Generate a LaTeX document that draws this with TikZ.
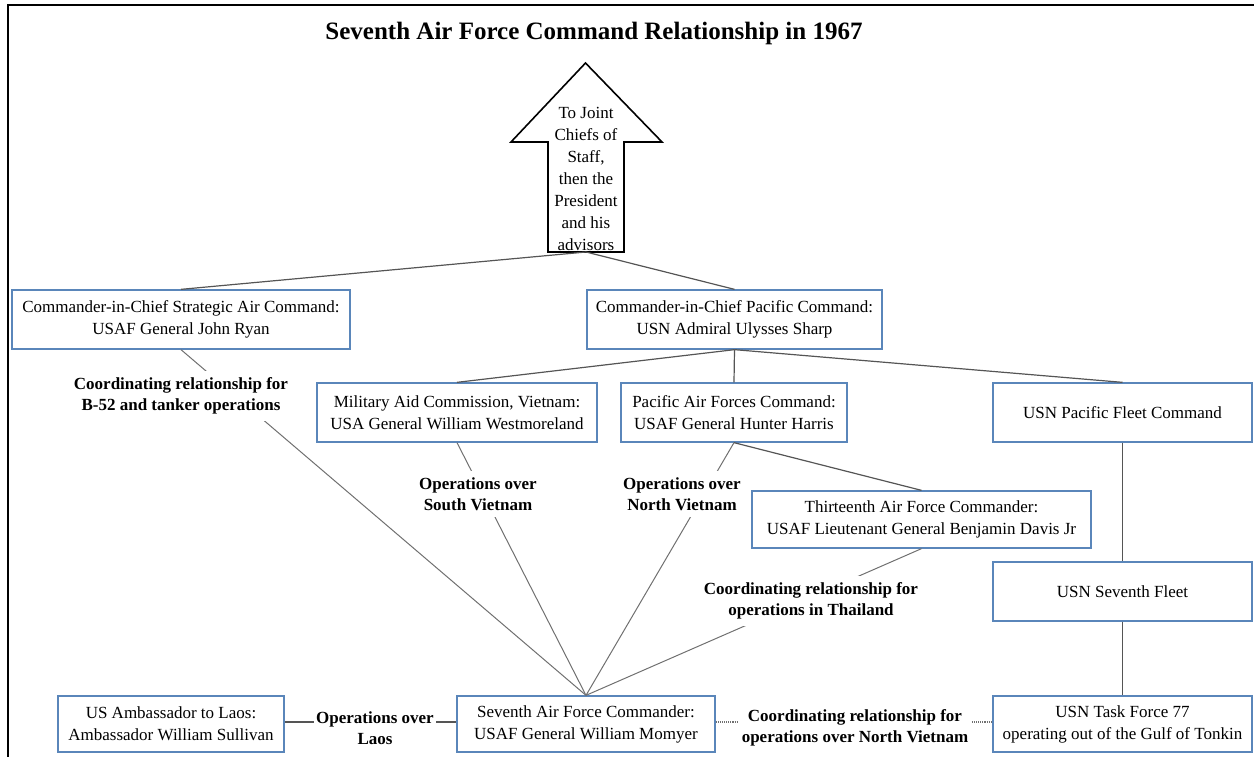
\documentclass[tikz,border=0pt]{standalone}
\usepackage{fontspec}
\setmainfont{Liberation Serif}
\definecolor{boxblue}{HTML}{5A86BA}
\definecolor{conn}{HTML}{555555}
\definecolor{faint}{HTML}{707070}
\begin{document}
\begin{tikzpicture}[x=1pt,y=-1pt,
  box/.style={draw=boxblue, line width=1.3pt, fill=white, align=center, inner sep=0pt,
    font=\fontsize{17}{22}\selectfont},
  lbl/.style={fill=white, align=center, inner sep=4pt,
    font=\bfseries\fontsize{17}{21.5}\selectfont},
  link/.style={draw=conn, line width=1.2pt},
  faintlink/.style={draw=faint, line width=1pt},
  dotlink/.style={draw=faint, line width=1.1pt, densely dotted}]
\useasboundingbox (0,0) rectangle (1254,757);
% frame
\draw[line width=2pt] (8,757) -- (8,5) -- (1254,5);
% title
\node[font=\bfseries\fontsize{25}{30}\selectfont] (title) at (594,33) {Seventh Air Force Command Relationship in 1967};
% arrow
\draw[line width=1.6pt, fill=white] (585.5,63) -- (662,142) -- (624,142) -- (624,252) -- (548,252) -- (548,142) -- (511,142) -- cycle;
\node[align=center, inner sep=0pt, font=\fontsize{17}{22}\selectfont] (arrowtxt) at (586,179)
  {To Joint\\Chiefs of\\Staff,\\then the\\President\\and his\\advisors};
\coordinate (abase) at (586,252);
% boxes
\node[box, minimum width=338pt, minimum height=59pt] (sac) at (181,319.5)
  {Commander-in-Chief Strategic Air Command:\\USAF General John Ryan};
\node[box, minimum width=295pt, minimum height=59pt] (pacom) at (734.5,319.5)
  {Commander-in-Chief Pacific Command:\\USN Admiral Ulysses Sharp};
\node[box, minimum width=280pt, minimum height=59pt] (macv) at (457,412.5)
  {Military Aid Commission, Vietnam:\\USA General William Westmoreland};
\node[box, minimum width=226pt, minimum height=59pt] (pacaf) at (734,412.5)
  {Pacific Air Forces Command:\\USAF General Hunter Harris};
\node[box, minimum width=259pt, minimum height=59pt] (pfc) at (1122.5,412.5)
  {USN Pacific Fleet Command};
\node[box, minimum width=339pt, minimum height=57pt] (thirteenth) at (921.5,519.5)
  {Thirteenth Air Force Commander:\\USAF Lieutenant General Benjamin Davis Jr};
\node[box, minimum width=259pt, minimum height=59pt] (fleet) at (1122.5,591.5)
  {USN Seventh Fleet};
\node[box, minimum width=226pt, minimum height=56pt] (laos) at (171,724)
  {US Ambassador to Laos:\\Ambassador William Sullivan};
\node[box, minimum width=258pt, minimum height=56pt] (seventh) at (586,724)
  {Seventh Air Force Commander:\\USAF General William Momyer};
\node[box, minimum width=259pt, minimum height=56pt] (tf) at (1122.5,724)
  {USN Task Force 77\\operating out of the Gulf of Tonkin};
% connectors
\draw[link] (abase) -- (sac.north);
\draw[link] (abase) -- (pacom.north);
\draw[link] (pacom.south) -- (macv.north);
\draw[link] (pacom.south) -- (pacaf.north);
\draw[link] (pacom.south) -- (pfc.north);
\draw[link] (pacaf.south) -- (thirteenth.north);
\draw[link] (pfc.south) -- (fleet.north);
\draw[link] (fleet.south) -- (tf.north);
\draw[faintlink] (sac.south) -- (seventh.north);
\draw[faintlink] (macv.south) -- (seventh.north);
\draw[faintlink] (pacaf.south) -- (seventh.north);
\draw[faintlink] (thirteenth.south) -- (seventh.north);
\draw[link] ([yshift=2pt]laos.east) -- ([yshift=2pt]seventh.west);
\draw[dotlink] ([yshift=2pt]seventh.east) -- ([yshift=2pt]tf.west);
% labels
\node[lbl, inner sep=6pt] (lsac) at (181,396) {Coordinating relationship for\\B-52 and tanker operations};
\node[lbl, inner sep=6pt] (lsvn) at (478,494) {Operations over\\South Vietnam};
\node[lbl, inner sep=6pt] (lnvn) at (682,494) {Operations over\\North Vietnam};
\node[lbl, inner sep=6pt] (lthai) at (811,601) {Coordinating relationship for\\operations in Thailand};
\node[lbl, inner sep=2pt] (llaos) at (375,728) {Operations over\\Laos};
\node[lbl, inner sep=3pt] (lcoord) at (855,728) {Coordinating relationship for\\operations over North Vietnam};
\end{tikzpicture}
\end{document}
